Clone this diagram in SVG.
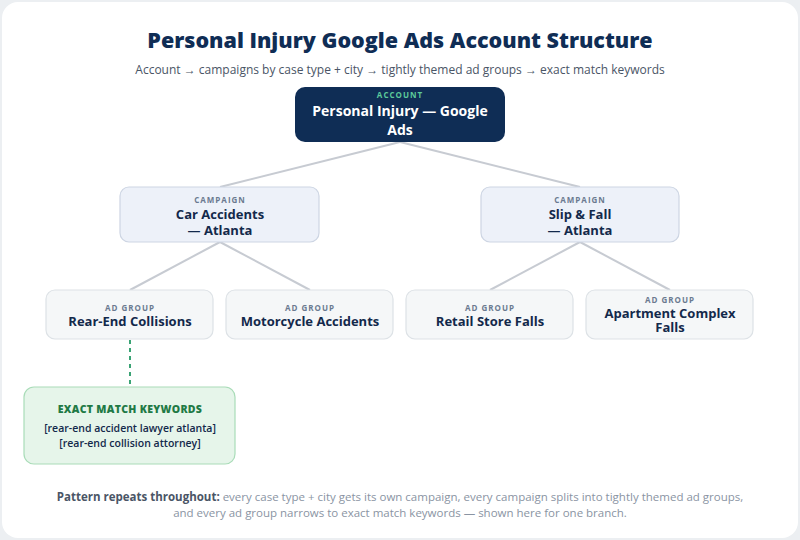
<svg xmlns="http://www.w3.org/2000/svg" width="800" height="540" viewBox="0 0 800 540">
<style>
text{font-family:"Open Sans","Liberation Sans",sans-serif;text-anchor:middle}
.title{font-size:21.5px;font-weight:800;fill:#0f2d55}
.sub{font-size:12px;fill:#4a5566}
.kind{font-size:8px;font-weight:700;letter-spacing:1px;fill:#6b7a90}
.name{font-size:13px;font-weight:700;fill:#13294b}
.camp{fill:#edf1f9;stroke:#cdd5e3;stroke-width:1.2}
.ag{fill:#f5f7f8;stroke:#dde2e6;stroke-width:1.2}
.conn line{stroke:#c7cbd2;stroke-width:2}
</style>
<rect width="800" height="540" fill="#eceff2"/>
<rect x="2" y="2" width="796" height="536" rx="16" fill="#ffffff"/>
<text x="400" y="48" class="title">Personal Injury Google Ads Account Structure</text>
<text x="400" y="74" class="sub">Account → campaigns by case type + city → tightly themed ad groups → exact match keywords</text>
<g class="conn">
<line x1="400" y1="142" x2="220" y2="187"/>
<line x1="400" y1="142" x2="580" y2="187"/>
<line x1="220" y1="242" x2="130" y2="290"/>
<line x1="220" y1="242" x2="310" y2="290"/>
<line x1="580" y1="242" x2="490" y2="290"/>
<line x1="580" y1="242" x2="670" y2="290"/>
<line x1="130" y1="340" x2="130" y2="387" style="stroke:#3aa374;stroke-dasharray:4 4"/>
</g>
<g id="account">
<rect x="295" y="87" width="210" height="55" rx="10" fill="#0f2d55"/>
<text x="400" y="98" class="kind" style="fill:#5cc99a">ACCOUNT</text>
<text x="400" y="116" class="name" style="fill:#fff;font-size:14px">Personal Injury — Google</text>
<text x="400" y="135" class="name" style="fill:#fff;font-size:14px">Ads</text>
</g>
<g id="camp-car">
<rect x="120" y="187" width="199" height="55" rx="9" class="camp"/>
<text x="220" y="203" class="kind">CAMPAIGN</text>
<text x="220" y="219" class="name">Car Accidents</text>
<text x="220" y="235" class="name">— Atlanta</text>
</g>
<g id="camp-slip">
<rect x="481" y="187" width="198" height="55" rx="9" class="camp"/>
<text x="580" y="203" class="kind">CAMPAIGN</text>
<text x="580" y="219" class="name">Slip &amp; Fall</text>
<text x="580" y="235" class="name">— Atlanta</text>
</g>
<g id="ag-rear">
<rect x="46" y="290" width="167" height="49" rx="9" class="ag"/>
<text x="130" y="311" class="kind">AD GROUP</text>
<text x="130" y="326" class="name">Rear-End Collisions</text>
</g>
<g id="ag-moto">
<rect x="226" y="290" width="167" height="49" rx="9" class="ag"/>
<text x="310" y="311" class="kind">AD GROUP</text>
<text x="310" y="326" class="name">Motorcycle Accidents</text>
</g>
<g id="ag-retail">
<rect x="406" y="290" width="167" height="49" rx="9" class="ag"/>
<text x="490" y="311" class="kind">AD GROUP</text>
<text x="490" y="326" class="name">Retail Store Falls</text>
</g>
<g id="ag-apt">
<rect x="586" y="290" width="167" height="49" rx="9" class="ag"/>
<text x="670" y="303" class="kind">AD GROUP</text>
<text x="670" y="318" class="name">Apartment Complex</text>
<text x="670" y="332" class="name">Falls</text>
</g>
<g id="keywords">
<rect x="24" y="387" width="211" height="77" rx="10" fill="#e6f5ea" stroke="#a9dcb8" stroke-width="1.2"/>
<text x="130" y="413" style="font-size:10.5px;font-weight:800;fill:#1f7a45;letter-spacing:0.3px">EXACT MATCH KEYWORDS</text>
<text x="130" y="432" style="font-size:10.5px;font-weight:600;fill:#13294b">[rear-end accident lawyer atlanta]</text>
<text x="130" y="447" style="font-size:10.5px;font-weight:600;fill:#13294b">[rear-end collision attorney]</text>
</g>
<text x="400" y="501" style="font-size:11.5px;fill:#8a94a3"><tspan style="font-weight:700;fill:#4a5566">Pattern repeats throughout:</tspan> every case type + city gets its own campaign, every campaign splits into tightly themed ad groups,</text>
<text x="400" y="517" style="font-size:11.5px;fill:#8a94a3">and every ad group narrows to exact match keywords — shown here for one branch.</text>
</svg>
